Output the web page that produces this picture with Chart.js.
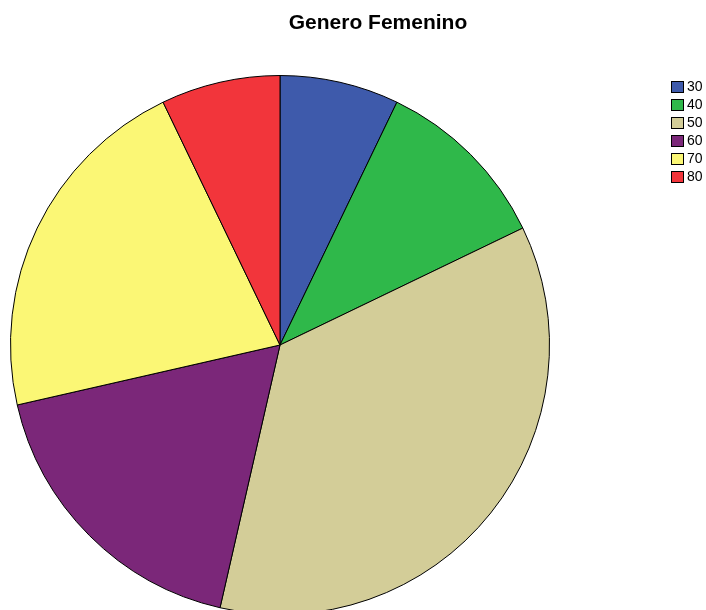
<!DOCTYPE html>
<html>
<head>
<meta charset="utf-8">
<script src="https://cdn.jsdelivr.net/npm/chart.js@4/dist/chart.umd.min.js"></script>
<style>
    html, body { margin: 0; padding: 0; background: #fff; overflow: hidden; }
    #wrap { width: 706px; height: 620px; position: relative; }
</style>
</head>
<body>
<div id="wrap"><canvas id="pieChart" width="706" height="620"></canvas></div>
<script>
const chartTitle = 'Genero Femenino';
const ageGroups = ['30', '40', '50', '60', '70', '80'];
const counts = [2, 3, 10, 5, 6, 2];
const sliceColors = ['#3e5aab', '#2fb84a', '#d3cd98', '#7b2779', '#fbf775', '#f2353b'];

// title and the little square legend in the top right corner
const decorations = {
    id: 'decorations',
    afterDraw(chart) {
        const ctx = chart.ctx;
        ctx.save();
        ctx.fillStyle = '#000';
        ctx.font = 'bold 21px "Liberation Sans", Arial, sans-serif';
        ctx.textAlign = 'center';
        ctx.textBaseline = 'middle';
        ctx.fillText(chartTitle, 378, 23);

        ctx.font = '14px "Liberation Sans", Arial, sans-serif';
        ctx.textAlign = 'left';
        ageGroups.forEach((label, i) => {
            const y = 81 + i * 18;
            ctx.fillStyle = sliceColors[i];
            ctx.fillRect(671, y, 12, 11);
            ctx.strokeStyle = '#000';
            ctx.lineWidth = 1;
            ctx.strokeRect(671.5, y + 0.5, 12, 11);
            ctx.fillStyle = '#000';
            ctx.fillText(label, 687, y + 6);
        });
        ctx.restore();
    }
};

const ctx = document.getElementById('pieChart').getContext('2d');
new Chart(ctx, {
    type: 'pie',
    data: {
        labels: ageGroups,
        datasets: [{
            data: counts,
            backgroundColor: sliceColors,
            borderColor: '#000',
            borderWidth: 1
        }]
    },
    options: {
        responsive: false,
        animation: false,
        layout: { padding: { left: 10, right: 156, top: 75, bottom: 5 } },
        plugins: {
            legend: { display: false },
            tooltip: { enabled: false }
        }
    },
    plugins: [decorations]
});
</script>
</body>
</html>
